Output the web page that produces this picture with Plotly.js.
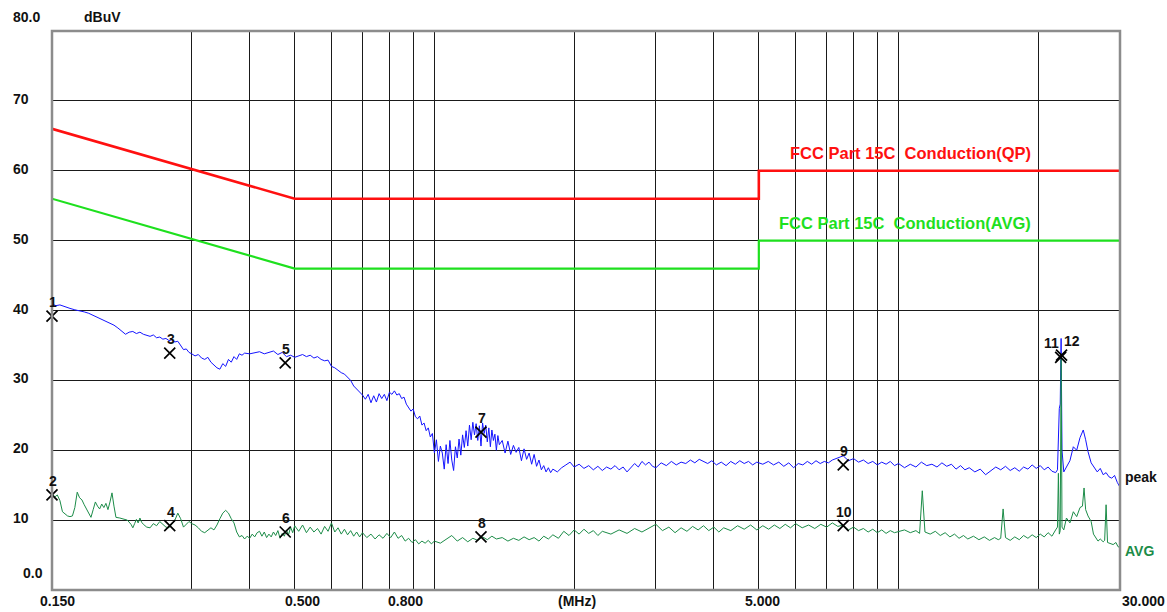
<!DOCTYPE html>
<html>
<head>
<meta charset="utf-8">
<script src="https://cdn.plot.ly/plotly-3.0.1.min.js"></script>
<style>html,body{margin:0;padding:0;background:#fff;}#chart{width:1167px;height:612px;}</style>
</head>
<body>
<div id="chart"></div>
<script>
// ---- Data (frequencies in MHz, levels in dBuV) ----
const qpLimitFreq = [0.15, 0.5, 0.5, 5, 5, 30];
const qpLimitLevel = [66, 56, 56, 56, 60, 60];
const avgLimitFreq = [0.15, 0.5, 0.5, 5, 5, 30];
const avgLimitLevel = [56, 46, 46, 46, 50, 50];

const peakFreq = [0.150,0.153,0.156,0.160,0.164,0.168,0.172,0.176,0.180,0.184,0.188,0.192,0.196,0.200,0.204,0.208,0.212,0.216,0.220,0.224,0.228,0.232,0.236,0.240,0.244,0.248,0.252,0.256,0.260,0.264,0.268,0.272,0.276,0.280,0.284,0.288,0.292,0.296,0.300,0.305,0.310,0.315,0.320,0.325,0.330,0.335,0.340,0.345,0.350,0.355,0.360,0.365,0.370,0.375,0.380,0.385,0.390,0.400,0.410,0.420,0.430,0.440,0.450,0.460,0.470,0.480,0.490,0.500,0.510,0.520,0.530,0.540,0.550,0.560,0.570,0.580,0.590,
0.600,0.610,0.620,0.630,0.640,0.650,0.660,0.670,0.680,0.690,0.700,0.710,0.720,0.730,0.740,0.750,0.760,0.770,0.780,0.790,0.800,0.810,0.820,0.830,0.840,0.850,0.860,0.870,0.880,0.890,0.900,0.910,0.920,0.930,0.940,0.950,0.960,0.970,0.980,0.990,1.000,1.010,1.020,1.030,1.040,1.050,1.060,1.070,1.080,1.090,1.100,1.110,1.120,1.130,1.140,1.150,1.160,1.170,1.180,1.190,1.200,1.210,1.220,1.230,1.240,1.250,1.260,1.270,1.280,1.290,1.300,1.310,1.320,1.330,1.340,1.350,1.360,1.370,1.380,1.400,1.420,1.440,1.460,1.480,1.500,1.520,1.540,1.560,1.580,1.600,1.620,1.640,1.660,1.680,1.700,1.720,1.740,1.760,1.780,
1.80,1.84,1.88,1.92,1.96,2.00,2.05,2.10,2.15,2.20,2.25,2.30,2.35,2.40,2.45,2.50,2.55,2.60,2.65,2.70,2.75,2.80,2.85,2.90,2.95,3.00,3.08,3.16,3.24,3.32,3.40,3.48,3.56,3.64,3.72,3.80,3.88,3.96,4.05,4.15,4.25,4.35,4.45,4.55,4.65,4.75,4.85,4.95,5.10,5.24,5.38,5.52,5.66,5.80,5.94,6.08,6.22,6.36,6.50,6.64,6.78,6.92,7.06,7.20,7.40,7.60,7.80,8.00,8.20,8.40,8.60,8.80,9.00,9.20,9.40,9.60,9.80,10.0,10.3,10.6,10.9,11.2,11.5,11.8,12.1,12.4,12.7,13.0,13.3,13.6,13.9,14.2,14.6,15.0,15.4,15.8,16.2,16.6,17.0,17.4,17.8,18.2,18.6,19.0,19.4,19.8,20.2,20.6,21.0,21.4,21.8,22.0,22.2,22.3,22.4,22.5,22.7,23.0,23.4,23.8,24.2,24.6,25.0,25.3,25.6,26.0,26.4,26.8,27.2,27.6,28.0,28.4,28.8,29.2,29.6,30.0];
const peakLevel = [40.9,40.7,40.8,40.5,40.3,40.1,40.0,39.8,39.6,39.3,39.0,38.8,38.5,38.2,37.9,37.5,37.0,36.6,36.9,37.0,36.7,36.9,36.6,36.5,36.3,36.5,36.1,36.2,35.9,36.0,35.7,35.8,35.5,35.6,34.9,34.4,34.5,34.0,33.8,33.5,33.7,33.2,33.0,33.3,32.6,32.2,31.8,31.6,32.4,32.0,33.0,32.6,33.4,33.0,33.8,33.6,33.9,33.8,33.9,34.1,33.8,34.0,34.2,33.7,34.0,33.4,33.6,33.3,33.5,33.7,33.4,33.6,33.2,33.4,33.0,32.8,32.9,
32.0,31.8,31.4,31.1,30.9,30.5,30.0,29.2,28.8,28.3,27.9,27.3,28.0,26.8,27.8,26.9,28.1,27.4,28.0,27.1,28.3,28.0,28.5,27.9,28.1,27.4,27.6,26.6,26.0,25.6,25.9,24.8,24.5,24.9,23.6,23.9,22.8,23.2,21.9,22.4,19.6,21.5,18.4,20.6,19.6,17.3,20.8,18.1,21.4,18.6,17.1,20.5,18.9,21.6,19.3,22.2,20.4,22.8,20.6,23.6,21.5,24.0,22.2,23.8,21.4,23.5,20.6,23.9,22.4,23.6,21.2,23.2,20.5,22.9,21.4,22.3,20.0,22.1,20.8,21.4,19.6,21.3,19.4,20.7,19.7,20.4,18.5,20.2,18.7,19.6,18.0,19.4,17.7,18.6,17.2,17.8,16.9,17.5,16.8,
17.3,16.9,17.5,17.9,18.3,17.6,18.0,17.4,17.8,17.2,17.7,17.1,17.6,17.3,17.8,17.2,17.6,16.9,17.5,18.1,17.6,18.4,17.9,18.3,17.7,17.5,18.2,17.8,18.4,17.9,18.3,18.1,18.6,18.2,18.7,18.4,18.1,18.5,17.9,18.3,17.8,18.4,18.0,18.5,18.1,18.4,17.9,18.3,18.0,18.4,17.9,18.3,17.7,18.2,17.5,18.1,17.9,18.4,18.0,18.5,18.1,18.4,18.2,18.6,18.9,19.2,18.5,18.8,18.3,18.6,18.1,18.4,17.9,18.3,18.0,18.4,17.8,18.1,17.5,18.0,17.6,18.3,17.8,18.0,17.6,18.2,17.7,18.0,17.3,17.8,17.2,17.5,16.9,17.3,16.5,17.0,17.6,17.2,17.7,17.1,17.5,17.0,17.6,17.3,17.9,17.4,17.8,17.2,17.6,17.0,16.8,17.2,26.0,26.6,36.0,20.0,16.9,17.6,18.5,20.5,20.0,21.8,22.9,21.5,19.8,18.2,17.5,16.9,17.4,16.5,16.8,16.2,16.0,16.4,15.4,14.7];

const avgFreq = [0.150,0.152,0.154,0.156,0.158,0.160,0.162,0.164,0.166,0.168,0.170,0.172,0.174,0.176,0.178,0.180,0.182,0.184,0.186,0.188,0.190,0.192,0.194,0.196,0.198,0.200,0.202,0.204,0.206,0.210,0.214,0.218,0.222,0.224,0.226,0.228,0.230,0.232,0.234,0.236,0.240,0.244,0.248,0.252,0.256,0.260,0.264,0.268,0.272,0.276,0.280,0.284,0.288,0.292,0.296,0.300,0.305,0.310,0.315,0.320,0.325,0.330,0.335,0.340,0.345,0.350,0.355,0.360,0.365,0.370,0.375,0.380,0.385,0.390,0.395,0.400,0.405,0.410,0.415,0.420,0.425,0.430,0.435,0.440,0.445,0.450,0.455,0.460,0.465,0.470,0.475,0.480,0.485,0.490,0.495,
0.500,0.510,0.520,0.530,0.540,0.550,0.560,0.570,0.580,0.590,0.600,0.610,0.620,0.630,0.640,0.650,0.660,0.670,0.680,0.690,0.700,0.715,0.730,0.745,0.760,0.775,0.790,0.805,0.820,0.835,0.850,0.865,0.880,0.895,0.910,0.925,0.940,0.955,0.970,0.985,1.000,1.03,1.06,1.09,1.12,1.15,1.18,1.21,1.24,1.27,1.30,1.33,1.36,1.40,1.44,1.48,1.52,1.56,1.60,1.64,1.68,1.72,1.76,1.80,1.85,1.90,1.95,2.00,2.05,2.10,2.15,2.20,2.25,2.30,2.40,2.50,2.60,2.70,2.80,2.90,3.00,3.10,3.20,3.30,3.40,3.50,3.60,3.70,3.80,3.90,4.00,4.10,4.20,4.35,4.50,4.65,4.80,4.95,
5.10,5.25,5.40,5.55,5.70,5.85,6.00,6.20,6.40,6.60,6.80,7.00,7.20,7.40,7.60,7.80,8.00,8.20,8.40,8.60,8.80,9.00,9.20,9.40,9.60,9.80,10.0,10.3,10.6,10.9,11.1,11.25,11.4,11.7,12.0,12.3,12.6,12.9,13.2,13.5,13.8,14.1,14.5,14.9,15.3,15.7,16.1,16.4,16.6,16.8,17.0,17.4,17.8,18.2,18.6,19.0,19.4,19.8,20.2,20.6,21.0,21.4,21.8,22.0,22.1,22.2,22.3,22.4,22.5,22.7,23.0,23.4,23.8,24.2,24.6,24.9,25.1,25.3,25.6,26.0,26.3,26.6,26.9,27.2,27.6,27.8,28.0,28.2,28.6,29.0,29.4,29.7,30.0];
const avgLevel = [13.9,13.3,13.6,12.8,11.2,10.9,10.6,10.5,10.6,11.8,14.0,13.2,12.9,12.2,11.6,11.0,10.4,11.5,12.6,12.0,11.6,12.3,11.8,12.4,11.5,12.6,13.9,12.0,10.4,10.3,10.2,10.0,9.4,8.9,9.5,10.1,9.6,10.3,9.7,9.4,9.0,8.9,9.5,9.2,9.8,9.4,9.0,8.9,9.4,10.0,11.0,10.2,9.0,9.4,9.8,9.5,9.3,8.9,8.4,8.2,8.5,8.9,8.6,9.3,10.2,11.0,11.4,11.0,10.2,9.6,8.3,7.6,7.8,7.3,7.7,7.4,8.0,7.6,8.2,8.4,7.7,8.3,7.5,8.0,7.6,8.3,7.8,8.5,7.4,8.1,7.7,8.6,7.9,9.0,8.2,
9.2,8.4,9.3,8.2,9.0,8.3,8.8,8.0,9.1,8.4,9.6,8.3,8.9,8.0,8.7,7.9,8.5,7.7,8.3,7.6,8.2,7.5,8.0,7.3,7.9,7.4,8.1,7.5,8.3,7.4,7.8,7.0,7.4,6.8,7.2,6.6,7.0,6.7,7.1,6.6,7.0,6.7,7.3,7.8,7.0,7.5,6.9,7.4,7.1,7.6,7.2,7.7,7.3,7.5,7.0,7.4,7.1,7.6,7.2,7.5,7.0,7.7,7.3,7.9,7.4,8.4,7.8,8.6,8.0,8.7,8.1,8.5,7.8,8.4,8.0,8.6,8.1,8.8,8.3,8.9,9.4,8.5,9.0,8.2,8.9,8.4,9.1,8.6,9.2,8.5,9.0,8.3,8.9,8.5,9.2,8.7,9.3,8.6,
9.2,8.7,9.3,8.8,9.4,8.9,9.5,8.9,9.3,8.8,9.4,9.0,9.6,9.1,9.3,8.6,9.0,8.5,8.8,8.3,8.7,8.2,8.6,8.1,8.5,8.2,8.4,8.6,8.2,8.5,8.1,14.2,8.3,8.0,8.4,7.8,8.2,7.6,8.0,7.4,7.8,7.3,7.7,7.2,7.6,7.1,7.5,7.2,7.4,11.6,7.5,7.1,7.6,7.2,7.8,7.4,7.9,7.5,8.0,7.6,8.2,7.7,8.6,9.0,16.7,8.0,8.5,33.3,9.0,8.6,10.3,9.6,11.2,10.5,11.8,12.0,14.6,11.5,10.6,9.8,8.0,7.5,7.0,7.3,6.9,7.1,12.2,6.8,6.7,6.5,6.8,6.2,6.1];

const markerFreq = [0.150, 0.150, 0.269, 0.269, 0.477, 0.477, 1.26, 1.26, 7.6, 7.6, 22.35, 22.45];
const markerLevel = [39.2, 13.6, 33.9, 9.2, 32.5, 8.3, 22.6, 7.6, 17.9, 9.2, 33.3, 33.6];
const markerLabel = ["1","2","3","4","5","6","7","8","9","10","11","12"];

const gridFreq = [0.3,0.4,0.5,0.6,0.7,0.8,0.9,1,2,3,4,5,6,7,8,9,10,20];
const gridLevel = [10,20,30,40,50,60,70];
const xLabelFreq = [0.15, 0.5, 0.8, 2, 5, 30];
const xLabelText = ["0.150", "0.500", "0.800", "(MHz)", "5.000", "30.000"];
const yLabelLevel = [80, 70, 60, 50, 40, 30, 20, 10, 0];
const yLabelText = ["80.0", "70", "60", "50", "40", "30", "20", "10", "0.0"];

// ---- Styling ----
const FONT = "Liberation Sans, Arial, sans-serif";
const lbl = {family: FONT, size: 14, color: "#111", weight: "bold"};
const xShift = [5, 8, 16, 3, 4, 23];
const yOff = {80: 14, 0: 17};
const yLeft = {80: 11, 0: 21};
const mShift = {"11": -9, "12": 10};

const traces = [
  {x: qpLimitFreq, y: qpLimitLevel, mode: "lines", line: {color: "#ff1010", width: 2.6}, hoverinfo: "skip"},
  {x: avgLimitFreq, y: avgLimitLevel, mode: "lines", line: {color: "#1ee01e", width: 2.2}, hoverinfo: "skip"},
  {x: peakFreq, y: peakLevel, mode: "lines", line: {color: "#1414ff", width: 1}, hoverinfo: "skip"},
  {x: avgFreq, y: avgLevel, mode: "lines", line: {color: "#1c8c48", width: 1}, hoverinfo: "skip"},
  {x: markerFreq, y: markerLevel, mode: "markers", cliponaxis: false,
   marker: {symbol: "x-thin", size: 11, color: "#000", line: {color: "#000", width: 1.7}}, hoverinfo: "skip"}
];

const annotations = [];
markerLabel.forEach((t, i) => {
  annotations.push({x: Math.log10(markerFreq[i]), y: markerLevel[i], xref: "x", yref: "y", text: t,
    showarrow: false, yshift: 14, xshift: (mShift[t] !== undefined ? mShift[t] : 1), font: lbl});
});
xLabelFreq.forEach((f, i) => {
  annotations.push({x: Math.log10(f), y: 0, xref: "x", yref: "paper", text: xLabelText[i],
    showarrow: false, yanchor: "top", yshift: -1, xshift: xShift[i], font: lbl});
});
yLabelLevel.forEach((v, i) => {
  annotations.push({x: 0, y: v, xref: "paper", yref: "y", text: yLabelText[i], showarrow: false,
    xanchor: "left", xshift: -52 + (yLeft[v] !== undefined ? yLeft[v] : 11), yshift: (yOff[v] || 2), font: lbl});
});
annotations.push({x: 0, y: 80, xref: "paper", yref: "y", text: "dBuV", showarrow: false, xanchor: "left",
  xshift: 30, yshift: 14, font: lbl});
annotations.push({x: 1, y: 16.2, xref: "paper", yref: "y", text: "peak", showarrow: false, xanchor: "left",
  xshift: 3, font: lbl});
annotations.push({x: 1, y: 5.6, xref: "paper", yref: "y", text: "AVG", showarrow: false, xanchor: "left",
  xshift: 3, font: {family: FONT, size: 14, color: "#1c8c48", weight: "bold"}});
annotations.push({x: Math.log10(19.5), y: 60, xref: "x", yref: "y", text: "FCC Part 15C  Conduction(QP)",
  showarrow: false, xanchor: "right", yanchor: "bottom", yshift: 7, font: {family: FONT, size: 16.5, color: "#ff1010", weight: "bold"}});
annotations.push({x: Math.log10(19.5), y: 50, xref: "x", yref: "y", text: "FCC Part 15C  Conduction(AVG)",
  showarrow: false, xanchor: "right", yanchor: "bottom", yshift: 7, font: {family: FONT, size: 16.5, color: "#1ee01e", weight: "bold"}});

const layout = {
  width: 1167, height: 612,
  margin: {l: 52, r: 47, t: 31, b: 22, pad: 0},
  paper_bgcolor: "#fff", plot_bgcolor: "#fff",
  showlegend: false,
  xaxis: {type: "log", range: [Math.log10(0.15), Math.log10(30)], tickvals: gridFreq, showticklabels: false,
    showgrid: true, gridcolor: "#1a1a1a", gridwidth: 1.2, zeroline: false, ticks: "", showline: false, fixedrange: true},
  yaxis: {range: [0, 80], tickvals: gridLevel, showticklabels: false, showgrid: true, gridcolor: "#1a1a1a",
    gridwidth: 1.2, zeroline: false, ticks: "", showline: false, fixedrange: true},
  shapes: [{type: "rect", xref: "paper", yref: "paper", x0: 0, x1: 1, y0: 0, y1: 1,
    line: {color: "#8c8c8c", width: 2.5}, layer: "above"}],
  annotations: annotations
};

Plotly.newPlot("chart", traces, layout, {staticPlot: true, displayModeBar: false});
</script>
</body>
</html>
